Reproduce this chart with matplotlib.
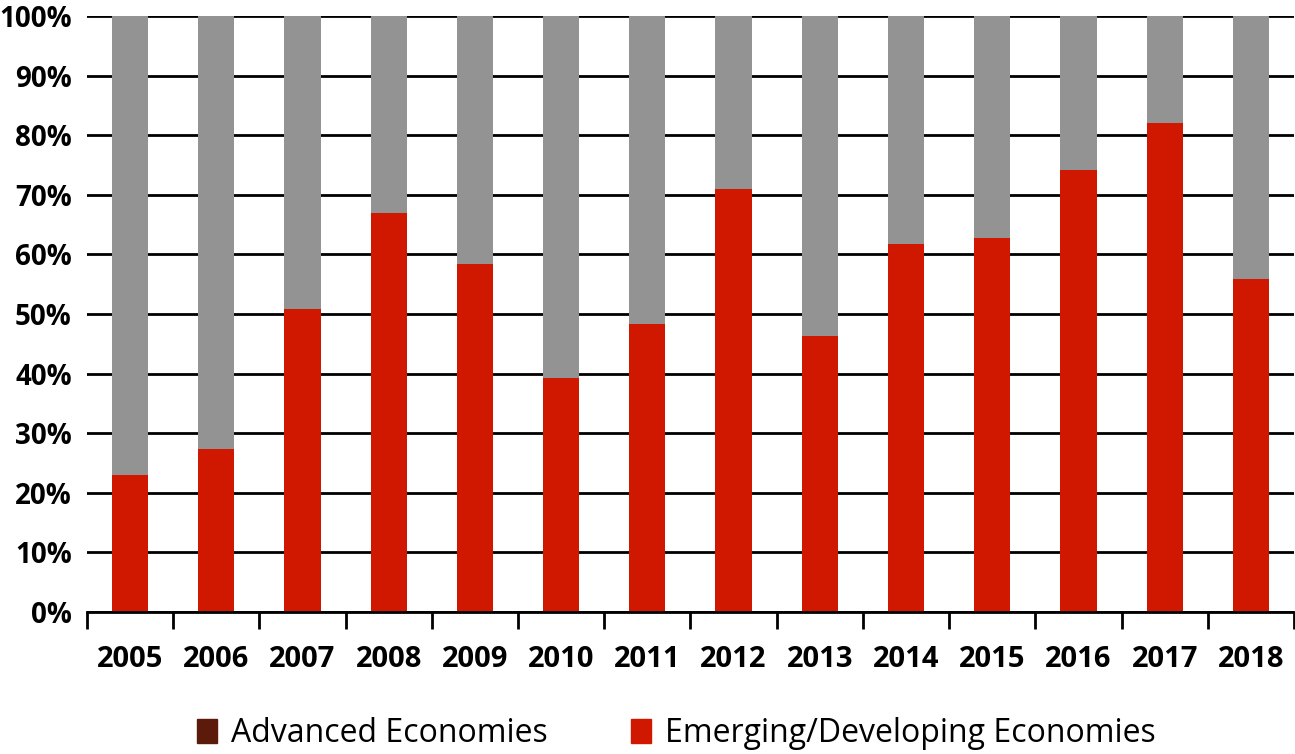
import numpy as np
import matplotlib.pyplot as plt
from matplotlib.patches import Patch
from matplotlib.ticker import PercentFormatter

years = ["2005", "2006", "2007", "2008", "2009", "2010", "2011",
         "2012", "2013", "2014", "2015", "2016", "2017", "2018"]
# quota economie emergenti/in via di sviluppo (%)
emerging = [23.0, 27.4, 50.9, 66.9, 58.4, 39.2, 48.3,
            71.0, 46.3, 61.7, 62.7, 74.2, 82.1, 55.9]
advanced = [100 - v for v in emerging]

c_red = "#d01800"
c_gray = "#939393"
c_brown = "#5c1a0a"

plt.rcParams['font.family'] = ['Open Sans', 'DejaVu Sans']

fig = plt.figure(figsize=(12.95, 7.54), dpi=100)
ax = fig.add_axes([0.0672, 0.1883, 0.932, 0.7905])

x = np.arange(len(years))
ax.bar(x, emerging, width=0.42, color=c_red, zorder=2)
ax.bar(x, advanced, width=0.42, bottom=emerging, color=c_gray, zorder=2)

ax.set_xlim(-0.5, len(years) - 0.5)
ax.set_ylim(0, 100)
ax.set_yticks(np.arange(0, 101, 10))
ax.yaxis.set_major_formatter(PercentFormatter(decimals=0))
ax.grid(axis='y', color='black', lw=2, zorder=1)
ax.set_axisbelow(True)

for s in ['top', 'right', 'left']:
    ax.spines[s].set_visible(False)
ax.spines['bottom'].set_linewidth(2)
ax.spines['bottom'].set_zorder(3)

ax.set_xticks(x)
ax.set_xticklabels(years)
ax.set_xticks(np.arange(-0.5, len(years), 1), minor=True)
ax.tick_params(axis='x', which='major', length=0, pad=24, labelsize=21)
ax.tick_params(axis='x', which='minor', length=12, width=2)
ax.tick_params(axis='y', length=0, pad=11, labelsize=20)
for lab in ax.get_xticklabels() + ax.get_yticklabels():
    lab.set_fontweight('bold')

handles = [Patch(color=c_brown, label="Advanced Economies"),
           Patch(color=c_red, label="Emerging/Developing Economies")]
fig.legend(handles=handles, loc='center', bbox_to_anchor=(0.522, 0.027),
           ncol=2, frameon=False, fontsize=23, handlelength=0.63,
           handleheight=0.75, handletextpad=0.44, columnspacing=2.6,
           borderpad=0)

fig.savefig("out.png", dpi=100)
